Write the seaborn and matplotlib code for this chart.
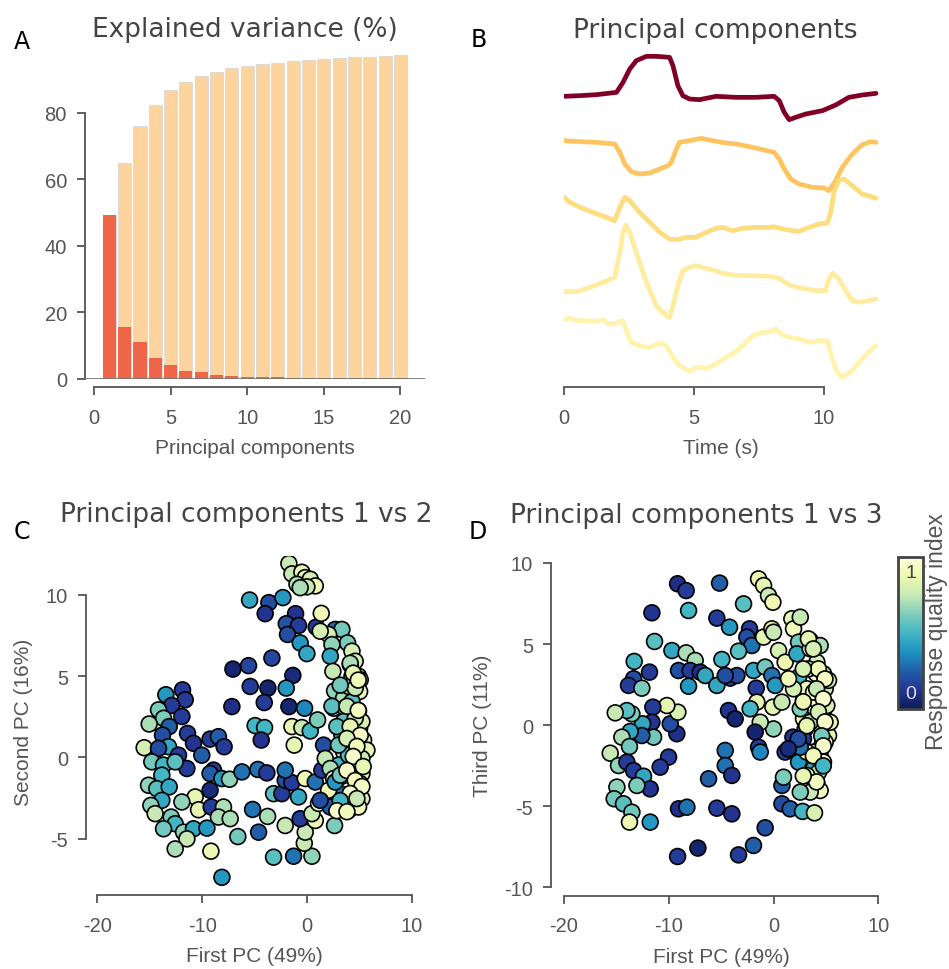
import numpy as np
import matplotlib
matplotlib.use('Agg')
import matplotlib.pyplot as plt
from matplotlib.cm import ScalarMappable
from matplotlib.colors import Normalize
import seaborn as sns

# ---------------- data ----------------
pc_index = list(range(1, 21))
var_single = [49.3, 15.6, 11.1, 6.4, 4.3, 2.5, 2.0, 1.2, 1.0, 0.7,
              0.6, 0.5, 0.4, 0.4, 0.3, 0.3, 0.2, 0.2, 0.2, 0.2]
var_cumulative = [49.3, 65.0, 76.0, 82.4, 86.7, 89.1, 91.1, 92.3, 93.3, 93.9,
                  94.5, 95.0, 95.4, 95.8, 96.1, 96.4, 96.6, 96.8, 97.0, 97.2]

# principal component time courses (arbitrary units)
time_pc1 = [0, 0.61, 1.25, 2.02, 2.27, 2.53, 2.78, 3.17, 3.55, 4.06, 4.19, 4.38, 4.57, 4.83, 5.21,
            5.85, 6.62, 7.38, 8.08, 8.28, 8.47, 8.66, 8.91, 9.30, 9.94, 10.45, 10.96, 11.47, 12.0]
amp_pc1 = [0.08, 0.10, 0.13, 0.20, 0.50, 0.90, 1.15, 1.28, 1.28, 1.25, 1.00, 0.40, 0.10, 0.00, -0.02,
           0.08, 0.05, 0.05, 0.08, -0.05, -0.40, -0.62, -0.55, -0.45, -0.35, -0.18, 0.05, 0.12, 0.17]

time_pc2 = [0, 0.61, 1.25, 1.95, 2.15, 2.34, 2.59, 2.91, 3.30, 3.68, 4.00, 4.13, 4.32, 4.44, 4.83, 5.27,
            5.72, 6.23, 6.62, 7.25, 7.64, 8.08, 8.28, 8.47, 8.72, 9.04, 9.55, 10.00, 10.19, 10.45, 10.70,
            11.09, 11.47, 11.79, 12.0]
amp_pc2 = [0.60, 0.57, 0.55, 0.50, 0.25, -0.10, -0.33, -0.40, -0.37, -0.25, -0.15, -0.05, 0.35, 0.55,
           0.60, 0.67, 0.60, 0.53, 0.50, 0.40, 0.33, 0.25, 0.05, -0.25, -0.55, -0.70, -0.80, -0.82,
           -0.90, -0.60, -0.20, 0.20, 0.48, 0.57, 0.55]

time_pc3 = [0, 0.23, 0.61, 1.12, 1.63, 1.95, 2.15, 2.34, 2.53, 2.91, 3.30, 3.68, 4.06, 4.32, 4.70, 5.08,
            5.47, 5.85, 6.10, 6.49, 6.87, 7.38, 7.89, 8.08, 8.40, 8.79, 9.04, 9.43, 9.81, 10.13, 10.26,
            10.38, 10.57, 10.77, 11.09, 11.47, 11.79, 12.0]
amp_pc3 = [0.75, 0.60, 0.45, 0.30, 0.15, 0.05, 0.45, 0.75, 0.65, 0.30, 0.00, -0.30, -0.50, -0.52, -0.45,
           -0.45, -0.30, -0.18, -0.15, -0.25, -0.18, -0.15, -0.15, -0.13, -0.20, -0.25, -0.27, -0.15,
           -0.05, -0.02, 0.30, 0.90, 1.25, 1.30, 1.10, 0.85, 0.78, 0.72]

time_pc4 = [0, 0.49, 1.00, 1.51, 1.95, 2.15, 2.27, 2.38, 2.53, 2.78, 3.17, 3.55, 3.93, 4.06, 4.19, 4.38,
            4.57, 4.83, 5.08, 5.59, 6.10, 6.62, 7.25, 7.89, 8.28, 8.66, 9.17, 9.68, 10.06, 10.19, 10.34,
            10.57, 10.83, 11.09, 11.40, 11.72, 12.0]
amp_pc4 = [-0.23, -0.23, -0.10, 0.05, 0.20, 0.95, 1.55, 1.77, 1.55, 0.95, 0.05, -0.65, -0.95, -1.00,
           -0.65, -0.05, 0.40, 0.50, 0.55, 0.45, 0.33, 0.25, 0.25, 0.23, 0.17, -0.03, -0.13, -0.20,
           -0.20, 0.15, 0.33, 0.15, -0.20, -0.50, -0.55, -0.50, -0.45]

time_pc5 = [0, 0.23, 0.49, 0.87, 1.25, 1.51, 1.70, 2.02, 2.25, 2.40, 2.59, 2.91, 3.30, 3.68, 3.93, 4.19,
            4.44, 4.83, 5.08, 5.47, 5.85, 6.23, 6.62, 6.87, 7.25, 7.64, 7.96, 8.15, 8.34, 8.66, 9.04,
            9.43, 9.81, 10.13, 10.32, 10.51, 10.70, 11.09, 11.40, 11.72, 12.0]
amp_pc5 = [0.78, 0.82, 0.75, 0.75, 0.73, 0.78, 0.65, 0.68, 0.75, 0.45, 0.10, 0.00, -0.05, 0.08, 0.00,
           -0.35, -0.60, -0.77, -0.65, -0.68, -0.55, -0.35, -0.18, 0.00, 0.30, 0.40, 0.42, 0.50, 0.35,
           0.25, 0.20, 0.10, 0.15, 0.15, -0.40, -0.80, -0.95, -0.75, -0.45, -0.20, 0.00]

# scores of each cell on PC1 / PC2 and its quality index (panel C)
pc1_c = [-1.72, -1.43, -0.48, -0.16, 0.32, 0.80, -0.95, 0.00, -0.64, -5.47, -3.63, -3.98, -2.29, -1.08,
         -1.97, -0.80, -1.85, -0.64, 0.00, 0.89, 1.37, -3.34, -5.57, -7.06, -1.34, -5.41, -3.72, -1.97,
         -1.72, -0.22, -4.07, -7.16, -4.94, -4.04, -4.36, -1.43, -0.48, 0.32, 1.02, -1.21, 1.59,
         -13.46, -11.87, -11.61, -12.90, -11.93, -14.16, -13.68, -15.05, -13.14, -11.39, -10.82, -13.78,
         -13.20, -15.53, -14.16, -12.25, -11.45, -14.80, -13.68, -12.57, -10.03, -9.24, -8.44, -7.90,
         -8.91, -9.24, -8.11, -7.38, -6.20, -13.84, -15.11, -14.32, -13.14, -9.24, -10.66, -11.93, -13.84,
         -14.89, -10.34, -9.13, -7.96, -8.44, -7.32, -14.48, -12.95, -12.57, -13.68, -11.77, -10.82,
         -9.54, -11.45, -12.57, -9.16, -8.11, -6.59, -4.61, -5.18, -3.75, -3.18, -1.27, 0.48, -0.25,
         -0.16, -2.07, -0.64, 0.80, 0.48, -3.18, -2.39, -2.07, -1.43, -0.80, -2.07, -4.68, -3.82, -0.16,
         0.80, 1.43, 1.11,
         2.70, 3.34, 2.07, 3.88, 2.39, 2.23, 4.30, 4.61, 4.14, 2.48, 4.93, 4.30, 5.09, 3.34, 2.64, 5.03,
         3.50, 4.30, 2.55, 3.66, 4.93, 3.50, 4.14, 5.03, 3.34, 4.14, 4.93, 5.41, 4.61, 5.73, 3.50, 4.45,
         5.25, 3.98, 3.02, 4.77, 3.82, 5.25, 4.45, 3.50, 5.09, 4.61, 3.98, 4.93, 3.18, 4.14, 5.25, 2.55,
         3.66, 1.91, 2.70, 4.45, 3.18, 3.98, 4.93, 2.64, 2.23, 1.75, 2.23, 2.55, 2.07, 1.27, 2.70, 3.18,
         3.98, 4.45, 5.25, 4.61, 3.98, 4.61, 1.27, 2.86, 3.02,
         4.13, 4.42, 4.90, 3.18, 2.39, 3.82, 4.90, 4.13, 5.09, 3.82, 4.77, 4.42, 5.37, 3.82, 4.61, 5.25,
         4.13, 4.77, 3.18, 2.86, 3.82]
pc2_c = [11.94, 11.30, 11.40, 11.07, 10.97, 10.56, 10.66, 10.50, 10.45, 9.69, 9.53, 8.85, 9.84, 8.85,
         8.23, 8.12, 7.57, 7.05, 6.39, 8.02, 8.87, 6.12, 5.65, 5.44, 5.05, 4.37, 4.27, 4.27, 3.13, 3.03,
         3.38, 3.13, 1.96, 1.84, 1.07, 1.90, 1.84, 1.63, 2.31, 0.76, 0.76,
         3.86, 4.16, 3.55, 3.20, 2.52, 2.93, 2.41, 2.06, 1.90, 1.48, 0.87, 1.38, 0.66, 0.60, 0.56, 0.14,
         -0.68, -0.27, -0.47, -0.27, 0.14, 1.13, 1.28, 0.66, -0.78, -0.99, -1.30, -1.34, -0.89, -1.09,
         -1.71, -1.92, -1.81, -2.02, -2.43, -2.74, -2.64, -2.95, -3.22, -3.05, -3.05, -3.67, -3.77, -3.46,
         -3.67, -4.08, -4.39, -4.60, -4.39, -4.35, -5.01, -5.63, -5.77, -7.38, -4.87, -4.60, -3.20, -3.63,
         -6.14, -6.08, -6.08, -5.28, -4.60, -4.19, -3.77, -3.88, -3.46, -2.23, -2.23, -1.40, -1.55, -2.43,
         -0.78, -0.74, -0.95, -1.30, -1.51, -0.78, -2.83,
         7.88, 7.88, 7.57, 7.05, 6.95, 6.23, 6.54, 5.92, 5.71, 5.30, 5.00, 4.99, 4.78, 4.37, 4.10, 4.06,
         3.65, 3.44, 3.03, 3.03, 2.87, 2.21, 1.90, 1.79, 1.38, 1.18, 1.48, 1.07, 0.66, 0.45, 0.35, 0.04,
         -0.06, -0.37, -0.47, -0.68, -0.89, -0.99, -1.30, -1.40, -1.61, -1.81, -2.02, -2.12, -2.23, -2.43,
         -2.54, -2.74, -2.85, -2.64, -2.64, -2.95, -3.15, -3.26, -3.05, -4.19, -3.05, -0.06, -0.68, -1.30,
         -2.02, -2.64, -1.51, -1.09, 0.14, 1.69, 2.21, 2.41, 4.37, 4.27, 7.77, 1.90, 0.76,
         5.80, 5.19, 4.76, 4.45, 3.15, 3.15, 2.90, 1.90, 1.36, 1.17, 0.68, 0.06, -0.56, -0.80, -1.42, -1.79,
         -2.22, -2.53, -2.66, -3.28, -3.34]
quality_c = [0.75, 0.75, 0.85, 0.85, 0.80, 0.88, 0.70, 0.75, 0.70, 0.45, 0.20, 0.12, 0.40, 0.12, 0.22,
             0.15, 0.20, 0.40, 0.45, 0.15, 0.88, 0.18, 0.18, 0.05, 0.08, 0.15, 0.05, 0.40, 0.05, 0.35,
             0.15, 0.10, 0.50, 0.50, 0.12, 0.85, 0.75, 0.50, 0.62, 0.85, 0.20,
             0.40, 0.15, 0.15, 0.15, 0.15, 0.62, 0.62, 0.70, 0.25, 0.15, 0.12, 0.20, 0.45, 0.80, 0.20,
             0.15, 0.15, 0.60, 0.50, 0.55, 0.25, 0.15, 0.25, 0.15, 0.15, 0.25, 0.40, 0.65, 0.30, 0.50,
             0.65, 0.55, 0.45, 0.08, 0.85, 0.65, 0.45, 0.65, 0.85, 0.15, 0.70, 0.70, 0.70, 0.75, 0.62,
             0.50, 0.60, 0.65, 0.45, 0.40, 0.75, 0.70, 0.88, 0.40, 0.60, 0.25, 0.30, 0.70, 0.55, 0.30,
             0.65, 0.75, 0.75, 0.75, 0.15, 0.88, 0.75, 0.55, 0.15, 0.20, 0.15, 0.45, 0.30, 0.30, 0.15,
             0.88, 0.30, 0.15, 0.88,
             0.30, 0.60, 0.80, 0.62, 0.65, 0.45, 0.80, 0.80, 0.55, 0.75, 0.75, 0.65, 0.80, 0.50, 0.65,
             0.88, 0.70, 0.55, 0.65, 0.60, 0.88, 0.55, 0.75, 0.80, 0.45, 0.60, 0.55, 0.85, 0.65, 0.85,
             0.70, 0.85, 0.75, 0.80, 0.50, 0.88, 0.90, 0.85, 0.95, 0.85, 0.95, 0.95, 0.90, 0.85, 0.30,
             0.95, 0.80, 0.35, 0.88, 0.30, 0.85, 0.88, 0.40, 0.85, 0.90, 0.62, 0.25, 0.75, 0.70, 0.85,
             0.88, 0.20, 0.40, 0.60, 0.55, 0.90, 0.80, 0.75, 0.70, 0.75, 0.80, 0.55, 0.60,
             0.70, 0.85, 0.90, 0.60, 0.55, 0.75, 0.92, 0.85, 0.95, 0.80, 0.90, 0.95, 0.85, 0.95, 0.90,
             0.92, 0.95, 0.75, 0.50, 0.95, 0.90]

# scores on PC1 / PC3 (panel D)
pc1_d = [-9.16, -8.34, -5.15, -11.61, -8.11, -5.41, -4.20, -2.86, -2.29, -2.55, -2.07, -3.34, -0.95,
         -1.43, -0.95, -0.48, -0.06, -0.16, 0.00, -11.36, -9.70, -8.34, -7.48, -4.93, -13.30, -11.84,
         -9.07, -7.96, -7.00, -6.52, -5.41, -4.14, -3.50, -8.11, -13.36, -13.84, -12.57, -1.91, -1.65,
         -0.80, -0.16, 0.16, 0.48, 1.11, 1.75, 1.91, 2.55, 2.39, 2.23, 3.50, 3.50, 4.14, 4.07, 4.93,
         2.39, 2.86, 4.14, 2.86, 4.93, 4.61, 5.25, 4.61, 4.45, 3.82, 3.02, 2.86, 1.85, 1.11, 2.39, 3.82,
         4.14, 4.45, 3.50, 2.55, 0.80, 0.80, 1.59, 2.77, 3.91, 0.95, 0.00, -0.06, 0.80, -1.27, -1.59,
         -2.23, -1.75, -1.43, -1.27, -4.30, -3.66, -4.61, -4.61, -3.98, -6.20, -9.23, -9.86, -9.13,
         -10.18, -10.02, -10.82, -11.52, -11.61, -11.45, -12.50, -12.57, -13.52, -14.00, -15.11, -13.68,
         -14.48, -15.59, -13.75, -14.80, -14.00, -13.36, -12.41, -11.77, -13.04, -14.95, -15.21, -14.32,
         -13.52, -13.75, -11.77, -9.07, -8.27, -5.41, -3.98, -0.80, -1.91, -7.22, -9.16, -3.34, -4.61,
         3.18, 3.82, 5.09, 4.77, 4.45, 5.25, 5.41, 4.93, 4.30, 4.77, 3.18, 1.91, 1.43, 3.34, 2.55, 3.50,
         3.18, 2.55,
         3.33, 3.80, 4.28, 4.91, 2.84, 4.11, 4.75, 2.84, 4.28, 4.91, 3.17, 4.60, 4.75, 3.80, 4.75, 4.11,
         2.84, 2.36, 1.41]
pc3_d = [8.72, 8.30, 8.76, 6.93, 7.07, 6.60, 6.04, 7.48, 5.94, 5.43, 4.91, 4.56, 5.43, 9.02, 8.61,
         7.99, 7.58, 5.94, 5.73, 5.16, 4.60, 4.46, 3.99, 4.05, 3.93, 3.27, 3.37, 3.37, 3.27, 3.06, 2.45,
         2.90, 3.06, 2.40, 2.86, 2.45, 2.28, 3.37, 2.28, 3.58, 3.06, 2.45, 4.60, 3.88, 6.56, 5.94, 6.66,
         5.12, 4.40, 5.22, 4.71, 3.88, 3.17, 2.24, 2.96, 1.52, 1.52, 0.39, 0.39, -0.23, -0.64, -1.25,
         -1.87, -1.66, -0.23, -0.84, -0.74, -1.66, -2.28, -2.69, -3.62, -4.03, -4.13, -4.13, -3.72,
         -4.85, -5.16, -5.32, -5.41, -3.21, -0.23, 1.11, 1.42, 0.18, 1.42, 1.01, -0.43, -1.36, -1.66,
         0.90, 0.39, -1.56, -2.49, -3.10, -3.31, -0.53, 0.08, 0.80, 1.21, -1.97, -2.59, 1.11, 0.18,
         -0.74, 0.08, -0.64, 0.70, 0.90, 0.76, -0.39, -0.74, -1.73, -1.32, -2.49, -2.28, -2.80, -3.15,
         -3.93, -3.72, -3.82, -4.54, -4.85, -5.37, -5.98, -5.98, -5.16, -5.06, -5.12, -5.47, -6.33,
         -7.42, -7.58, -8.10, -8.00, 3.06, 2.24, 2.04, 1.21, 3.17, 4.91, 2.76, 0.18, -1.05, -2.90,
         -2.28, -3.10, 2.24, 2.86, 3.47, 1.01, 0.18, -1.66, -1.36,
         5.32, 4.70, 3.47, 2.85, 3.47, 2.24, 1.62, 1.44, 0.82, 0.20, -0.04, -0.66, -1.28, -1.89, -2.51,
         -3.50, -3.13, -0.85, -1.46]
quality_d = [0.10, 0.15, 0.25, 0.12, 0.50, 0.15, 0.40, 0.55, 0.15, 0.20, 0.30, 0.55, 0.85, 0.88, 0.85,
             0.75, 0.88, 0.85, 0.75, 0.55, 0.45, 0.70, 0.70, 0.50, 0.50, 0.15, 0.20, 0.15, 0.10, 0.45,
             0.45, 0.15, 0.20, 0.40, 0.20, 0.15, 0.62, 0.45, 0.15, 0.60, 0.30, 0.40, 0.80, 0.88, 0.85,
             0.90, 0.75, 0.60, 0.45, 0.50, 0.80, 0.80, 0.95, 0.80, 0.50, 0.95, 0.95, 0.88, 0.75, 0.97,
             0.85, 0.97, 0.85, 0.80, 0.50, 0.15, 0.12, 0.15, 0.40, 0.45, 0.95, 0.90, 0.75, 0.62, 0.25,
             0.20, 0.25, 0.50, 0.80, 0.62, 0.65, 0.85, 0.75, 0.75, 0.85, 0.50, 0.05, 0.15, 0.35, 0.12,
             0.05, 0.30, 0.30, 0.12, 0.25, 0.10, 0.20, 0.80, 0.85, 0.15, 0.15, 0.15, 0.12, 0.60, 0.45,
             0.25, 0.62, 0.55, 0.75, 0.45, 0.70, 0.75, 0.60, 0.65, 0.15, 0.15, 0.45, 0.12, 0.62, 0.65,
             0.60, 0.55, 0.60, 0.88, 0.40, 0.10, 0.30, 0.15, 0.12, 0.20, 0.25, 0.05, 0.15, 0.15, 0.20,
             0.90, 0.97, 0.80, 0.70, 0.70, 0.75, 0.85, 0.90, 0.75, 0.95, 0.85, 0.80, 0.90, 0.85, 0.62,
             0.70, 0.85, 0.30,
             0.85, 0.80, 0.90, 0.92, 0.80, 0.75, 0.95, 0.88, 0.80, 0.95, 0.85, 0.60, 0.95, 0.90, 0.50,
             0.92, 0.85, 0.20, 0.08]

# ---------------- styling ----------------
sns.set_style('ticks')
plt.rcParams['font.family'] = ['Liberation Sans', 'DejaVu Sans']
plt.rcParams['axes.unicode_minus'] = False

GREY = '#555555'
TITLE_GREY = '#444444'
W, H = 949, 970
fig = plt.figure(figsize=(W / 100, H / 100), dpi=100)


def px_axes(left, top, right, bottom):
    # axes placed in pixel coordinates of the figure
    return fig.add_axes([left / W, 1 - bottom / H, (right - left) / W, (bottom - top) / H])


def style_axes(ax):
    for s in ax.spines.values():
        s.set_color(GREY)
        s.set_linewidth(1.3)
    ax.spines['top'].set_visible(False)
    ax.spines['right'].set_visible(False)
    ax.tick_params(colors=GREY, labelcolor=GREY, length=6, width=1.3, labelsize=14.5)
    ax.tick_params(axis='x', pad=9)
    ax.tick_params(axis='y', pad=7)
    ax.xaxis.labelpad = 8
    ax.yaxis.labelpad = 9
    for lab in (ax.xaxis.label, ax.yaxis.label):
        lab.set_color(GREY)
        lab.set_size(15)


def title(xpx, ypx, text):
    fig.text(xpx / W, 1 - ypx / H, text, ha='center', va='baseline', fontsize=19,
             color=TITLE_GREY, family='DejaVu Sans')


def letter(xpx, ypx, text):
    fig.text(xpx / W, 1 - ypx / H, text, ha='center', va='center', fontsize=17,
             color='black', family='DejaVu Sans')


# ---- A: explained variance ----
axA = px_axes(85, 47, 425, 380)
sns.barplot(x=pc_index, y=var_cumulative, native_scale=True, width=0.85, color='#fdd49e',
            saturation=1, errorbar=None, edgecolor='#d9d9d9', linewidth=0.6, ax=axA)
sns.barplot(x=pc_index, y=var_single, native_scale=True, width=0.85, color='#ef6548',
            saturation=1, errorbar=None, linewidth=0, ax=axA)
axA.axhline(0, color='#777777', lw=1.3, zorder=5)
axA.set_xlim(-0.59, 21.6)
axA.set_ylim(0, 100)
axA.set_xticks([0, 5, 10, 15, 20])
axA.set_yticks([0, 20, 40, 60, 80])
axA.set_xlabel('Principal components')
axA.set_ylabel('')
style_axes(axA)
axA.spines['left'].set_bounds(0, 80)
axA.spines['bottom'].set_bounds(0, 20)
axA.spines['bottom'].set_position(('outward', 6))
title(244.5, 37, 'Explained variance (%)')

# ---- B: principal component time courses ----
axB = px_axes(564, 47, 878.6, 380)
cmap_tr = plt.get_cmap('YlOrRd')
traces = [(time_pc1, amp_pc1), (time_pc2, amp_pc2), (time_pc3, amp_pc3),
          (time_pc4, amp_pc4), (time_pc5, amp_pc5)]
for k, (t, a) in enumerate(traces):
    col = cmap_tr(var_single[k] / var_single[0])
    sns.lineplot(x=t, y=np.array(a) - 1.85 * k, color=col, lw=3.4, estimator=None,
                 sort=False, solid_capstyle='round', ax=axB)
axB.set_xlim(0, 12.1)
axB.set_ylim(-8.4, 1.59)
axB.set_xticks([0, 5, 10])
axB.set_yticks([])
axB.set_xlabel('Time (s)')
style_axes(axB)
axB.spines['left'].set_visible(False)
axB.spines['bottom'].set_bounds(0, 10)
axB.spines['bottom'].set_position(('outward', 6))
title(715.7, 38, 'Principal components')

# ---- C / D: scatter of scores ----
sc_kw = dict(palette='YlGnBu_r', hue_norm=(0, 1), s=130, edgecolor='black',
             linewidth=1.2, legend=False)

axC = px_axes(97.3, 557, 411.7, 887.6)
sns.scatterplot(x=pc1_c, y=pc2_c, hue=quality_c, ax=axC, **sc_kw)
axC.set_xlim(-20, 10)
axC.set_ylim(-7.95, 12.4)
axC.set_xticks([-20, -10, 0, 10])
axC.set_yticks([-5, 0, 5, 10])
axC.set_xlabel('First PC (49%)')
axC.set_ylabel('Second PC (16%)')
style_axes(axC)
axC.spines['left'].set_bounds(-5, 10)
axC.spines['left'].set_position(('outward', 8.1))
axC.spines['bottom'].set_bounds(-20, 10)
axC.spines['bottom'].set_position(('outward', 6))
title(246.7, 522, 'Principal components 1 vs 2')

axD = px_axes(564, 564, 878.3, 888.3)
sns.scatterplot(x=pc1_d, y=pc3_d, hue=quality_d, ax=axD, **sc_kw)
axD.set_xlim(-20, 10)
axD.set_ylim(-10, 10)
axD.set_xticks([-20, -10, 0, 10])
axD.set_yticks([-10, -5, 0, 5, 10])
axD.set_xlabel('First PC (49%)')
axD.set_ylabel('Third PC (11%)')
style_axes(axD)
axD.spines['left'].set_bounds(-10, 10)
axD.spines['left'].set_position(('outward', 9.4))
axD.spines['bottom'].set_bounds(-20, 10)
axD.spines['bottom'].set_position(('outward', 6))
title(696, 523, 'Principal components 1 vs 3')

# colorbar with labels drawn inside
cax = px_axes(898, 558, 923, 710)
cb = fig.colorbar(ScalarMappable(norm=Normalize(0, 1), cmap='YlGnBu_r'), cax=cax)
cb.set_ticks([])
cb.outline.set_edgecolor('#444444')
cb.outline.set_linewidth(2)
cax.text(0.5, 0.9, '1', transform=cax.transAxes, ha='center', va='center', fontsize=14, color='#444444')
cax.text(0.5, 0.1, '0', transform=cax.transAxes, ha='center', va='center', fontsize=14, color='#dddddd')
fig.text(936 / W, 1 - 632 / H, 'Response quality index', rotation=90, ha='center', va='center',
         fontsize=16.5, color=GREY)

letter(22, 42, 'A')
letter(479, 40, 'B')
letter(22, 532, 'C')
letter(478, 532, 'D')

fig.savefig('out.png', dpi=100)
